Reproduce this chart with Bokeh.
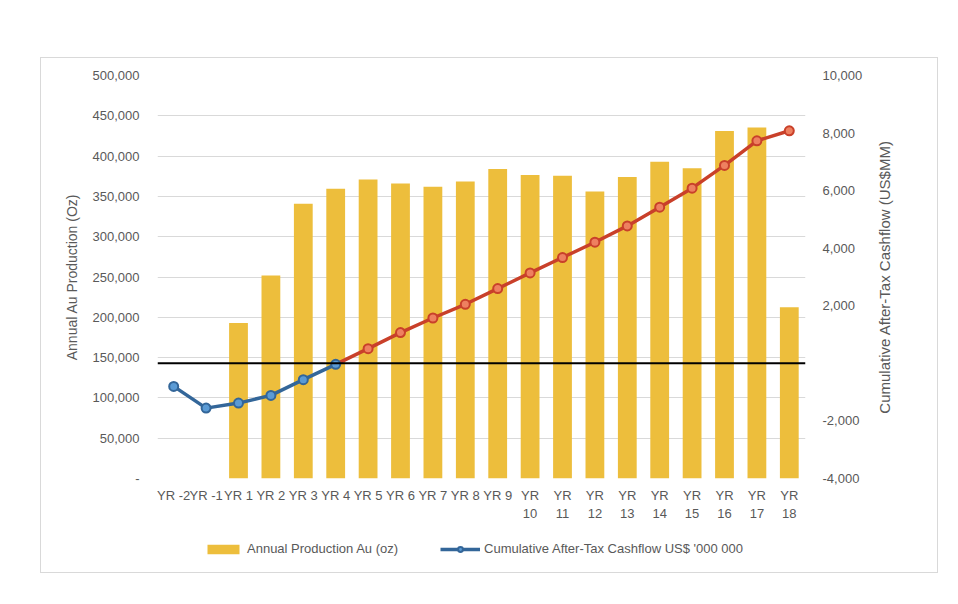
from bokeh.plotting import figure
from bokeh.layouts import column, row
from bokeh.models import (Range1d, LinearAxis, FixedTicker, NumeralTickFormatter,
                          Span, Legend, LegendItem, ColumnDataSource)
from bokeh.embed import file_html
from bokeh.resources import INLINE

# ---- data ----
categories = ["YR -2", "YR -1", "YR 1", "YR 2", "YR 3", "YR 4", "YR 5", "YR 6", "YR 7",
              "YR 8", "YR 9", "YR 10", "YR 11", "YR 12", "YR 13", "YR 14", "YR 15",
              "YR 16", "YR 17", "YR 18"]
x_tick_labels = ["YR -2", "YR -1", "YR 1", "YR 2", "YR 3", "YR 4", "YR 5", "YR 6", "YR 7",
                 "YR 8", "YR 9", "YR\n10", "YR\n11", "YR\n12", "YR\n13", "YR\n14", "YR\n15",
                 "YR\n16", "YR\n17", "YR\n18"]
production_oz = [0, 0, 193000, 252000, 341000, 359500, 371000, 366000, 362000, 368500,
                 384000, 376500, 375500, 356000, 374000, 393000, 385000, 431000, 435500, 212500]
cum_cashflow = [-800, -1555, -1380, -1113, -567, -35, 511, 1068, 1576, 2052, 2598, 3141,
                3676, 4208, 4775, 5426, 6087, 6876, 7732, 8080]
left_ticks = [0, 50000, 100000, 150000, 200000, 250000, 300000, 350000, 400000, 450000, 500000]
right_ticks = [-4000, -2000, 0, 2000, 4000, 6000, 8000, 10000]
neg_end = 5  # index of last negative (blue) point: YR 4
legend_labels = ["Annual Production Au (oz)", "Cumulative After-Tax Cashflow US$ '000 000"]
left_title = "Annual Au Production (Oz)"
right_title = "Cumulative After-Tax Cashflow (US$MM)"

FONT = "Liberation Sans"
GREY = "#595959"
BAR = "#EDBE3C"
BLUE_LINE = "#336699"
BLUE_FILL = "#5B9BD5"
RED_LINE = "#C9402A"
RED_FILL = "#EE8060"

xs = list(range(len(categories)))


def plain_axis(ax, standoff):
    ax.axis_line_color = None
    ax.major_tick_line_color = None
    ax.minor_tick_line_color = None
    ax.major_tick_out = 0
    ax.major_tick_in = 0
    ax.major_label_standoff = standoff
    ax.major_label_text_font = FONT
    ax.major_label_text_font_size = "13px"
    ax.major_label_text_color = GREY
    ax.axis_label_text_font = FONT
    ax.axis_label_text_font_size = "14px"
    ax.axis_label_text_font_style = "normal"
    ax.axis_label_text_color = GREY


p = figure(width=831, height=470, output_backend="svg", toolbar_location=None,
           x_range=Range1d(-0.5, len(categories) - 0.5),
           y_range=Range1d(0, 500000),
           min_border_left=116, min_border_right=67, min_border_top=17,
           min_border_bottom=50)
p.extra_y_ranges = {"cash": Range1d(-4000, 10000)}
p.outline_line_color = None
p.background_fill_color = "white"
p.border_fill_color = "white"

src_bar = ColumnDataSource(dict(x=xs, top=production_oz))
p.vbar(x="x", top="top", width=0.58, source=src_bar, fill_color=BAR, line_color=None)

p.add_layout(Span(location=0, dimension="width", y_range_name="cash",
                  line_color="black", line_width=2))

neg_src = ColumnDataSource(dict(x=xs[:neg_end + 1], y=cum_cashflow[:neg_end + 1]))
pos_src = ColumnDataSource(dict(x=xs[neg_end:], y=cum_cashflow[neg_end:]))
pos_pts = ColumnDataSource(dict(x=xs[neg_end + 1:], y=cum_cashflow[neg_end + 1:]))

p.line("x", "y", source=pos_src, y_range_name="cash", line_color=RED_LINE, line_width=3.5)
p.line("x", "y", source=neg_src, y_range_name="cash", line_color=BLUE_LINE, line_width=3.5)
p.scatter("x", "y", source=pos_pts, y_range_name="cash", size=9,
          fill_color=RED_FILL, line_color=RED_LINE, line_width=2)
p.scatter("x", "y", source=neg_src, y_range_name="cash", size=9,
          fill_color=BLUE_FILL, line_color=BLUE_LINE, line_width=2)

# x axis
xa = p.xaxis[0]
xa.ticker = FixedTicker(ticks=xs)
xa.major_label_overrides = {i: lab for i, lab in zip(xs, x_tick_labels)}
plain_axis(xa, 9)
p.xgrid.visible = False

# left axis
ya = p.yaxis[0]
ya.ticker = FixedTicker(ticks=left_ticks)
ya.formatter = NumeralTickFormatter(format="0,0")
ya.major_label_overrides = {0: "-"}
plain_axis(ya, 18)
ya.axis_label = left_title
ya.axis_label_standoff = 10
p.ygrid.grid_line_color = "#d9d9d9"
p.ygrid.grid_line_width = 1

# right axis (ticks only; its title is drawn by the strip to the right)
ra = LinearAxis(y_range_name="cash", ticker=FixedTicker(ticks=right_ticks),
                formatter=NumeralTickFormatter(format="0,0"))
ra.major_label_overrides = {0: ""}
plain_axis(ra, 17)
p.add_layout(ra, "right")

# ---- right title strip: a left axis label, so it reads bottom-to-top ----
tf = figure(width=65, height=470, output_backend="svg", toolbar_location=None,
            x_range=Range1d(0, 1), y_range=Range1d(0, 1), x_axis_location=None,
            min_border_left=15, min_border_right=0, min_border_top=17,
            min_border_bottom=50)
tf.outline_line_color = None
tf.xgrid.visible = False
tf.ygrid.visible = False
tf.background_fill_color = None
tf.border_fill_color = None
tfa = tf.yaxis[0]
tfa.ticker = FixedTicker(ticks=[])
plain_axis(tfa, 0)
tfa.major_label_text_font_size = "0px"
tfa.axis_label = right_title
tfa.axis_label_text_font_size = "15px"
tfa.axis_label_standoff = 0

# ---- legend strip (separate small figure below the chart) ----
lp = figure(width=896, height=44, output_backend="svg", toolbar_location=None,
            x_range=Range1d(0, 1), y_range=Range1d(0, 1),
            x_axis_location=None, y_axis_location=None,
            min_border_left=116, min_border_right=0, min_border_top=0, min_border_bottom=0)
lp.outline_line_color = None
lp.xgrid.visible = False
lp.ygrid.visible = False
lp.background_fill_color = None
lp.border_fill_color = None
l_bar = lp.vbar(x=[5], top=[5], width=0.5, fill_color=BAR, line_color=None)
l_line = lp.line(x=[5, 6], y=[5, 5], line_color=BLUE_LINE, line_width=3.5)
l_pt = lp.scatter(x=[5], y=[5], size=9, fill_color=BLUE_FILL, line_color=BLUE_LINE,
                  line_width=2)

legend = Legend(items=[
    LegendItem(label=legend_labels[0], renderers=[l_bar]),
    LegendItem(label=legend_labels[1], renderers=[l_line, l_pt]),
], location=(46, 16), orientation="horizontal")
legend.glyph_width = 40
legend.glyph_height = 12
legend.label_height = 12
legend.label_standoff = 4
legend.spacing = 42
legend.padding = 0
legend.margin = 0
legend.border_line_color = None
legend.background_fill_alpha = 0
legend.label_text_font = FONT
legend.label_text_font_size = "13px"
legend.label_text_color = GREY
lp.add_layout(legend, "center")

layout = column(row(p, tf, spacing=0), lp, spacing=0)
layout.margin = (57, 0, 0, 40)
layout.styles = {"border": "1px solid #d9d9d9", "background-color": "white"}

open("out.html", "w").write(file_html(layout, INLINE))
